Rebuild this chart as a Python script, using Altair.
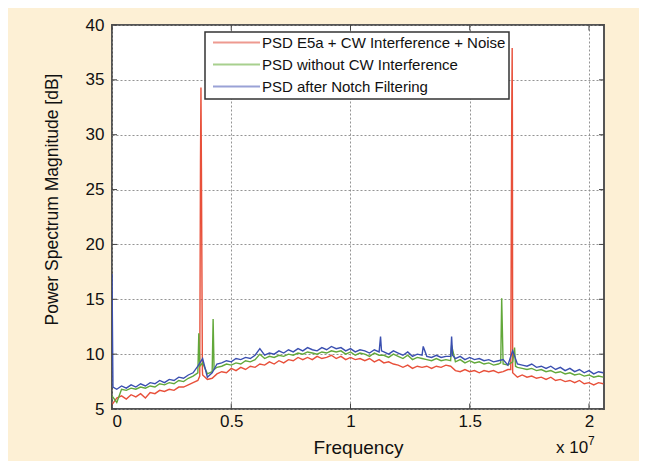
import altair as alt
import pandas as pd

FONT = "Liberation Sans, Arial, sans-serif"

series_names = ["PSD E5a + CW Interference + Noise",
                "PSD without CW Interference",
                "PSD after Notch Filtering"]
series_colors = ["#e8503a", "#62a83a", "#3a4fb0"]
legend_colors = ["#ee9a90", "#a8d08e", "#9aa2d6"]

# frequency bins (units of 1e7 Hz)
freq = [0.00, 0.02, 0.04, 0.06, 0.08, 0.10, 0.12, 0.14, 0.16, 0.18,
        0.20, 0.22, 0.24, 0.26, 0.28, 0.30, 0.32, 0.34, 0.36, 0.38,
        0.40, 0.42, 0.44, 0.46, 0.48, 0.50, 0.52, 0.54, 0.56, 0.58,
        0.60, 0.62, 0.64, 0.66, 0.68, 0.70, 0.72, 0.74, 0.76, 0.78,
        0.80, 0.82, 0.84, 0.86, 0.88, 0.90, 0.92, 0.94, 0.96, 0.98,
        1.00, 1.02, 1.04, 1.06, 1.08, 1.10, 1.12, 1.14, 1.16, 1.18,
        1.20, 1.22, 1.24, 1.26, 1.28, 1.30, 1.32, 1.34, 1.36, 1.38,
        1.40, 1.42, 1.44, 1.46, 1.48, 1.50, 1.52, 1.54, 1.56, 1.58,
        1.60, 1.62, 1.64, 1.66, 1.68, 1.70, 1.72, 1.74, 1.76, 1.78,
        1.80, 1.82, 1.84, 1.86, 1.88, 1.90, 1.92, 1.94, 1.96, 1.98,
        2.00, 2.02, 2.04, 2.06]

psd_red = [5.4, 6.0, 6.2, 5.9, 6.3, 6.1, 6.4, 6.0, 6.5, 6.4,
           6.7, 6.6, 6.8, 6.7, 7.0, 7.0, 7.2, 7.4, 7.6, 8.1,
           7.7, 7.8, 8.2, 8.4, 8.3, 8.7, 8.5, 8.8, 8.6, 8.9,
           8.8, 9.1, 9.0, 9.3, 9.1, 9.4, 9.2, 9.5, 9.4, 9.7,
           9.5, 9.7, 9.5, 9.8, 9.6, 9.7, 9.9, 9.6, 9.8, 9.5,
           9.7, 9.5, 9.6, 9.4, 9.6, 9.3, 9.5, 9.2, 9.3, 9.1,
           9.0, 8.8, 9.0, 8.7, 8.9, 8.8, 8.9, 8.7, 8.9, 8.8,
           9.0, 8.9, 8.5, 8.4, 8.6, 8.4, 8.5, 8.3, 8.5, 8.4,
           8.5, 8.3, 8.4, 8.6, 8.3, 7.9, 8.1, 7.9, 8.0, 7.8,
           7.9, 7.7, 7.9, 7.6, 7.7, 7.5, 7.6, 7.4, 7.6, 7.3,
           7.4, 7.2, 7.4, 7.3]

psd_green = [6.2, 5.6, 6.8, 6.7, 6.9, 6.8, 7.0, 6.9, 7.1, 7.0,
             7.3, 7.2, 7.4, 7.3, 7.6, 7.5, 7.8, 8.0, 8.3, 9.2,
             8.2, 8.4, 8.8, 8.9, 9.1, 9.0, 9.2, 9.1, 9.4, 9.3,
             9.5, 10.0, 9.6, 9.8, 9.7, 9.9, 9.8, 10.0, 9.9, 10.1,
             10.0, 10.2, 10.1, 10.0, 10.2, 10.1, 10.3, 10.2, 10.3, 10.0,
             10.2, 9.9, 10.1, 10.0, 9.8, 10.1, 9.9, 9.9, 9.7, 10.0,
             9.8, 9.6, 9.9, 9.5, 9.7, 9.6, 9.5, 9.4, 9.6, 9.4,
             9.5, 9.4, 9.3, 9.5, 9.2, 9.4, 9.2, 9.3, 9.1, 9.2,
             9.0, 9.1, 9.1, 9.0, 9.3, 8.8, 8.7, 8.6, 8.7, 8.5,
             8.6, 8.4, 8.5, 8.3, 8.4, 8.2, 8.3, 8.1, 8.2, 8.0,
             8.1, 7.9, 8.0, 7.9]

psd_blue = [17.3, 6.8, 7.1, 6.9, 7.2, 7.0, 7.3, 7.1, 7.4, 7.3,
            7.6, 7.4, 7.7, 7.6, 7.9, 7.8, 8.1, 8.3, 8.9, 9.6,
            7.9, 8.3, 9.1, 9.2, 9.4, 9.3, 9.6, 9.5, 9.7, 9.6,
            9.9, 10.5, 9.9, 10.1, 10.0, 10.3, 10.1, 10.4, 10.2, 10.5,
            10.3, 10.6, 10.4, 10.3, 10.6, 10.4, 10.7, 10.5, 10.6, 10.3,
            10.5, 10.2, 10.4, 10.3, 10.1, 10.4, 10.2, 10.2, 10.0, 10.3,
            10.1, 9.9, 10.2, 9.8, 10.0, 9.9, 9.8, 9.7, 9.9, 9.7,
            9.8, 9.8, 9.6, 9.8, 9.5, 9.7, 9.5, 9.6, 9.4, 9.5,
            9.3, 9.4, 9.5, 9.0, 10.3, 9.1, 9.0, 8.9, 9.1, 8.8,
            8.9, 8.7, 8.9, 8.6, 8.8, 8.5, 8.7, 8.4, 8.6, 8.3,
            8.5, 8.2, 8.4, 8.3]

# narrow spike points between bins
red_spike_f = [0.368, 0.371, 0.373, 0.375, 0.379, 1.672, 1.676, 1.678, 1.679]
red_spike_v = [8.0, 27.5, 34.3, 27.0, 8.5, 8.6, 31.4, 37.9, 31.0]
green_spike_f = [0.364, 0.368, 0.424, 0.428, 1.424, 1.630, 1.634, 1.688, 1.692]
green_spike_v = [11.9, 8.9, 13.2, 8.6, 10.8, 9.2, 15.1, 10.6, 8.9]
blue_spike_f = [0.004, 1.126, 1.130, 1.305, 1.424, 1.428]
blue_spike_v = [7.0, 11.6, 10.3, 10.7, 11.6, 9.9]

x_ticks = [0, 0.5, 1, 1.5, 2]
y_ticks = [5, 10, 15, 20, 25, 30, 35, 40]
x_domain = [0, 2.063]
y_domain = [5, 40]

rows = []
for name, base, sf, sv in [
    (series_names[0], psd_red, red_spike_f, red_spike_v),
    (series_names[1], psd_green, green_spike_f, green_spike_v),
    (series_names[2], psd_blue, blue_spike_f, blue_spike_v),
]:
    pts = sorted(list(zip(freq, base)) + list(zip(sf, sv)))
    for f, v in pts:
        rows.append({"series": name, "f": f, "psd": v})
df = pd.DataFrame(rows)

xscale = alt.Scale(domain=x_domain, nice=False, zero=False)
yscale = alt.Scale(domain=y_domain, nice=False, zero=False)
cscale = alt.Scale(domain=series_names, range=series_colors)

xaxis = alt.Axis(values=x_ticks, format="~g", title="Frequency",
                 labelFontSize=17, titleFontSize=19, labelPadding=4,
                 titleY=38, titleBaseline="middle", titleFontWeight="normal",
                 ticks=False, domain=False, grid=True,
                 gridDash=[2, 2], gridColor="#888", gridOpacity=0.9)
yaxis = alt.Axis(values=y_ticks, title="Power Spectrum Magnitude [dB]",
                 labelFontSize=17, titleFontSize=17.5, labelPadding=8,
                 titleX=-60, titleY=174, titleBaseline="middle",
                 titleFontWeight="normal",
                 ticks=False, domain=False, grid=True,
                 gridDash=[2, 2], gridColor="#888", gridOpacity=0.9)

layers = []
for name in series_names:
    layers.append(
        alt.Chart(df).transform_filter(alt.datum.series == name)
        .mark_line(strokeWidth=1.4, clip=True)
        .encode(
            x=alt.X("f:Q", scale=xscale, axis=xaxis),
            y=alt.Y("psd:Q", scale=yscale, axis=yaxis),
            color=alt.Color("series:N", scale=cscale, legend=None),
        )
    )

# inward tick marks on all four sides of the frame
xt_df = pd.DataFrame({
    "f": x_ticks + x_ticks,
    "y0": [y_domain[0]] * len(x_ticks) + [y_domain[1] - 0.5] * len(x_ticks),
    "y1": [y_domain[0] + 0.5] * len(x_ticks) + [y_domain[1]] * len(x_ticks),
})
yt_df = pd.DataFrame({
    "psd": y_ticks + y_ticks,
    "x0": [x_domain[0]] * len(y_ticks) + [x_domain[1] - 0.021] * len(y_ticks),
    "x1": [x_domain[0] + 0.021] * len(y_ticks) + [x_domain[1]] * len(y_ticks),
})
xticks_layer = alt.Chart(xt_df).mark_rule(color="#444", strokeWidth=1).encode(
    x=alt.X("f:Q", scale=xscale, axis=xaxis),
    y=alt.Y("y0:Q", scale=yscale, axis=yaxis), y2="y1:Q")
yticks_layer = alt.Chart(yt_df).mark_rule(color="#444", strokeWidth=1).encode(
    y=alt.Y("psd:Q", scale=yscale, axis=yaxis),
    x=alt.X("x0:Q", scale=xscale, axis=xaxis), x2="x1:Q")

# legend box (MATLAB-style, inside the plot)
box = alt.Chart(pd.DataFrame({"k": [0]})).mark_rect(
    fill="white", stroke="#333", strokeWidth=1.5
).encode(x=alt.value(93), x2=alt.value(397), y=alt.value(7), y2=alt.value(74))
legend_layers = [box]
row_y = [17.5, 39.5, 61.5]
for name, col, yy in zip(series_names, legend_colors, row_y):
    one = pd.DataFrame({"name": [name]})
    legend_layers.append(
        alt.Chart(one).mark_rule(color=col, strokeWidth=2).encode(
            x=alt.value(101), x2=alt.value(148), y=alt.value(yy)))
    legend_layers.append(
        alt.Chart(one).mark_text(font=FONT, fontSize=15, align="left",
                                 baseline="middle", color="#111").encode(
            x=alt.value(150), y=alt.value(yy), text="name:N"))

exp_base = alt.Chart(pd.DataFrame({"t": ["x 10"]})).mark_text(
    font=FONT, fontSize=17, align="left", baseline="alphabetic", color="#111"
).encode(x=alt.value(444), y=alt.value(428), text="t:N")
exp_sup = alt.Chart(pd.DataFrame({"t": ["7"]})).mark_text(
    font=FONT, fontSize=12, align="left", baseline="alphabetic", color="#111"
).encode(x=alt.value(476), y=alt.value(420), text="t:N")

chart = alt.layer(*layers, xticks_layer, yticks_layer, *legend_layers,
                  exp_base, exp_sup).properties(
    width=492, height=384,
    autosize=alt.AutoSizeParams(type="none"),
    padding={"left": 104, "top": 17, "right": 35, "bottom": 52},
    background="#fdf0d5",
).configure(font=FONT).configure_view(
    fill="white", stroke="#555", strokeWidth=2
).configure_axis(labelFont=FONT, titleFont=FONT, labelColor="#111", titleColor="#111")

chart.save("out.html", embed_options={"renderer": "svg", "actions": False})
